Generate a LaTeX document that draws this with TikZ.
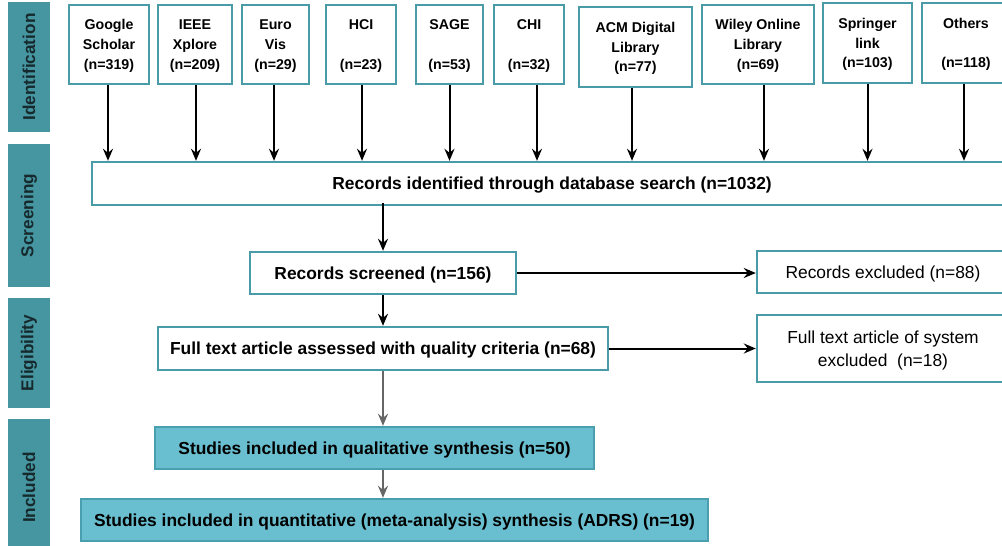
\documentclass[tikz,border=0pt]{standalone}
\usepackage{fontspec}
\setmainfont{Liberation Sans}
\usetikzlibrary{arrows.meta}
\definecolor{tealbar}{HTML}{4696A2}
\definecolor{tealline}{HTML}{4A9BA8}
\definecolor{tealfill}{HTML}{69BFCF}
\definecolor{tealdraw}{HTML}{4A9FAE}
\definecolor{bartext}{HTML}{16292C}
\definecolor{grayarrow}{HTML}{666666}
\begin{document}
\begin{tikzpicture}[x=1pt,y=-1pt,
  bar/.style={fill=tealbar, draw=none, rotate=90, inner sep=0pt, minimum height=42pt,
    text=bartext, font=\fontsize{17.2}{20}\selectfont\bfseries},
  src/.style={draw=tealline, line width=2.4pt, fill=white, inner sep=0pt, align=center,
    minimum height=79pt, text depth=0pt, font=\fontsize{14.2}{19.8}\selectfont\bfseries},
  mainbox/.style={draw=tealline, line width=2.4pt, fill=white, inner sep=0pt, align=center,
    minimum height=43pt, text depth=0pt, font=\fontsize{17.4}{21}\selectfont\bfseries},
  exbox/.style={draw=tealline, line width=2.4pt, fill=white, inner sep=0pt, align=center,
    minimum width=252pt, text depth=0pt, font=\fontsize{17.4}{23.5}\selectfont},
  incbox/.style={draw=tealdraw, line width=2.4pt, fill=tealfill, inner sep=0pt, align=center,
    minimum height=42pt, text depth=0pt, font=\fontsize{17.4}{21}\selectfont\bfseries},
  arr/.style={line width=2pt, -{Stealth[length=12pt,width=10pt,inset=4pt]}},
  garr/.style={line width=2pt, draw=grayarrow, -{Stealth[length=12pt,width=10pt,inset=4pt]}}
]
\useasboundingbox (0,0) rectangle (1002,546);

% side bars
\node[bar, minimum width=130pt] (idb) at (29,67) {Identification};
\node[bar, minimum width=143pt] (scb) at (29,215.5) {Screening};
\node[bar, minimum width=110pt] (elb) at (29,353) {Eligibility};
\node[bar, minimum width=137pt] (inb) at (29,487.5) {Included};

% source boxes
\node[src, minimum width=80pt] (gs) at (109,44.5) {Google\\Scholar\\(n=319)};
\node[src, minimum width=74pt] (ieee) at (195,44.5) {IEEE\\Xplore\\(n=209)};
\node[src, minimum width=67pt] (euro) at (275.5,44.5) {Euro\\Vis\\(n=29)};
\node[src, minimum width=70pt] (hci) at (361,44.5) {HCI\\~\\(n=23)};
\node[src, minimum width=67pt] (sage) at (449.5,44.5) {SAGE\\~\\(n=53)};
\node[src, minimum width=70pt] (chi) at (529,44.5) {CHI\\~\\(n=32)};
\node[src, minimum width=113pt, minimum height=80pt] (acm) at (635.5,47) {ACM Digital\\Library\\(n=77)};
\node[src, minimum width=112pt] (wiley) at (758,44.5) {Wiley Online\\Library\\(n=69)};
\node[src, minimum width=89pt, minimum height=80pt] (spr) at (867.5,43) {Springer\\link\\(n=103)};
\node[src, minimum width=88pt, minimum height=80pt] (oth) at (966,43) {Others\\~\\(n=118)};

% main flow
\node[mainbox, minimum width=920pt] (rid) at (552,183.5) {Records identified through database search (n=1032)};
\node[mainbox, minimum width=266pt, minimum height=42pt] (rs) at (383,273) {Records screened (n=156)};
\node[exbox, minimum height=42pt] (rex) at (883,272) {Records excluded (n=88)};
\node[mainbox, minimum width=450pt] (ft) at (383,348.5) {Full text article assessed with quality criteria (n=68)};
\node[exbox, minimum height=67pt] (ftex) at (883,348.5) {Full text article of system\\excluded\ \ (n=18)};
\node[incbox, minimum width=439pt] (qual) at (374.5,448) {Studies included in qualitative synthesis (n=50)};
\node[incbox, minimum width=627pt] (quant) at (394.5,520) {Studies included in quantitative (meta-analysis) synthesis (ADRS) (n=19)};

% arrows from sources
\draw[arr] ([xshift=-1pt]gs.south) -- ([xshift=-1pt]gs.south |- rid.north);
\draw[arr] ([xshift=1pt]ieee.south) -- ([xshift=1pt]ieee.south |- rid.north);
\draw[arr] ([xshift=-1.5pt]euro.south) -- ([xshift=-1.5pt]euro.south |- rid.north);
\draw[arr] ([xshift=1pt]hci.south) -- ([xshift=1pt]hci.south |- rid.north);
\draw[arr] (sage.south) -- (sage.south |- rid.north);
\draw[arr] ([xshift=8pt]chi.south) -- ([xshift=8pt]chi.south |- rid.north);
\draw[arr] ([xshift=-3.5pt]acm.south) -- ([xshift=-3.5pt]acm.south |- rid.north);
\draw[arr] ([xshift=6pt]wiley.south) -- ([xshift=6pt]wiley.south |- rid.north);
\draw[arr] (spr.south) -- (spr.south |- rid.north);
\draw[arr] ([xshift=-2pt]oth.south) -- ([xshift=-2pt]oth.south |- rid.north);

% flow arrows
\draw[arr] ([yshift=3pt]rid.south -| rs.north) -- (rs.north);
\draw[arr] (rs.south) -- (ft.north);
\draw[arr] (rs.east) -- (rex.west |- rs.east);
\draw[arr] (ft.east) -- (ftex.west |- ft.east);
\draw[garr] (ft.south) -- (ft.south |- qual.north);
\draw[garr] (ft.south |- qual.south) -- (ft.south |- quant.north);
\end{tikzpicture}
\end{document}
